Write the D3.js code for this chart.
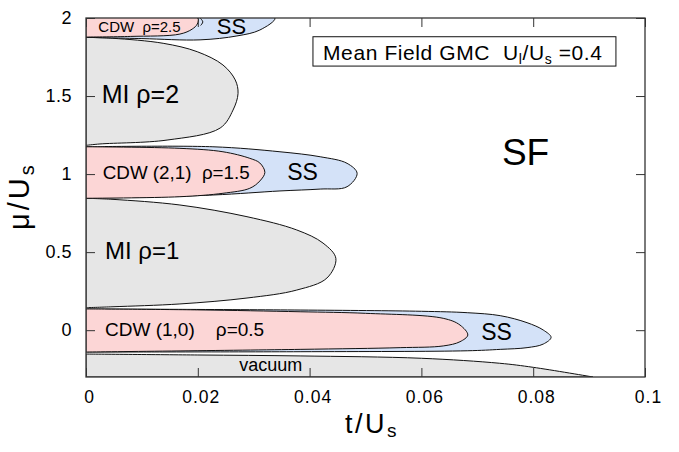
<!DOCTYPE html>
<html><head><meta charset="utf-8">
<script src="https://cdn.jsdelivr.net/npm/d3@7"></script>
<style>
body{margin:0;background:#fff}
text{font-family:"Liberation Sans",Arial,Helvetica,sans-serif;fill:#000}
</style>
</head><body>
<svg id="chart" width="679" height="452"></svg>
<script>
// ---- data ----
const xTicks = [0, 0.02, 0.04, 0.06, 0.08, 0.1];
const xTickLabels = ["0", "0.02", "0.04", "0.06", "0.08", "0.1"];
const yTicks = [0, 0.5, 1, 1.5, 2];
const yTickLabels = ["0", "0.5", "1", "1.5", "2"];

// phase boundaries [t/Us, mu/Us]
const vacuumEdge = [[0,-0.153],[0.02,-0.159],[0.0383,-0.165],[0.06,-0.180],[0.074,-0.212],[0.08,-0.238],[0.0907,-0.3]];
const ssLow  = [[0,0.136],[0.0383,0.129],[0.06,0.121],[0.0682,0.112],[0.0741,0.093],[0.0789,0.048],[0.0818,0.001],[0.0832,-0.046],[0.0818,-0.089],[0.0789,-0.112],[0.0741,-0.123],[0.0682,-0.132],[0.0383,-0.138],[0,-0.140]];
const cdwLow = [[0,0.136],[0.02,0.130],[0.0383,0.118],[0.05,0.108],[0.0639,0.076],[0.0669,0.033],[0.0683,-0.031],[0.0669,-0.074],[0.0639,-0.101],[0.0562,-0.112],[0.0383,-0.123],[0,-0.140]];
const miOne  = [[0,0.845],[0.00483,0.838],[0.0168,0.802],[0.0288,0.727],[0.0377,0.642],[0.0424,0.558],[0.0447,0.460],[0.0431,0.334],[0.0377,0.257],[0.0288,0.206],[0.0168,0.168],[0.00483,0.150],[0,0.144]];
const ssMid  = [[0,1.175],[0.0227,1.175],[0.0347,1.143],[0.0419,1.111],[0.0467,1.069],[0.0485,1.005],[0.0467,0.919],[0.0419,0.904],[0.0347,0.892],[0.0227,0.866],[0,0.845]];
const cdwMid = [[0,1.175],[0.0168,1.165],[0.0245,1.143],[0.0293,1.101],[0.0311,1.071],[0.0320,1.011],[0.0311,0.956],[0.0293,0.909],[0.0245,0.877],[0.0168,0.855],[0,0.845]];
const miTwo  = [[0,1.876],[0.0048,1.870],[0.0138,1.838],[0.0199,1.784],[0.0245,1.699],[0.0267,1.603],[0.0272,1.517],[0.0263,1.410],[0.0240,1.295],[0.0145,1.218],[0.0025,1.193],[0,1.184]];
const ssTop  = [[0,2.0],[0.0338,2.0],[0.0311,1.923],[0.0270,1.885],[0.0204,1.860],[0.01,1.868],[0,1.876]];
const cdwTop = [[0,2.0],[0.0200,2.0],[0.0199,1.961],[0.0190,1.929],[0.0168,1.897],[0.008,1.882],[0,1.878]];
const topArc = [[0.0204,2.0],[0.0209,1.975],[0.0205,1.952]];

// ---- layout ----
const W = 679, H = 452;
const m = {left: 86, right: 34, top: 18, bottom: 75};
const pw = W - m.left - m.right, ph = H - m.top - m.bottom;
const x = d3.scaleLinear().domain([0, 0.1]).range([0, pw]);
const y = d3.scaleLinear().domain([-0.3, 2.0]).range([ph, 0]);

const PINK = "#fcd6d6", BLUE = "#d4e2f8", GRAY = "#e6e6e6";

const svg = d3.select("#chart");
svg.append("defs").append("clipPath").attr("id","clip")
  .append("rect").attr("width", pw).attr("height", ph);
const g = svg.append("g").attr("transform", `translate(${m.left},${m.top})`);
const plot = g.append("g").attr("clip-path","url(#clip)");

const line = d3.line().x(d => x(d[0])).y(d => y(d[1])).curve(d3.curveCatmullRom.alpha(0.5));

// vacuum
plot.append("path")
  .attr("d", line(vacuumEdge) + `L${x(0)},${y(-0.3)}Z`)
  .attr("fill", GRAY).attr("stroke", "#111").attr("stroke-width", 1);

const regions = [
  [ssLow, BLUE], [cdwLow, PINK], [miOne, GRAY],
  [ssMid, BLUE], [cdwMid, PINK], [miTwo, GRAY],
  [ssTop, BLUE], [cdwTop, PINK]
];
regions.forEach(([pts, fill]) => {
  plot.append("path").attr("d", line(pts) + "Z")
    .attr("fill", fill).attr("stroke", "#111").attr("stroke-width", 1);
});
plot.append("path").attr("d", line(topArc))
  .attr("fill", "none").attr("stroke", "#111").attr("stroke-width", 1);

// axes (inward ticks)
const tickStyle = sel => {
  sel.select(".domain").remove();
  sel.selectAll(".tick line").attr("stroke", "#333").attr("stroke-width", 1);
  sel.selectAll("text").style("font-family", '"Liberation Sans",Arial,sans-serif').attr("fill", "#000");
};
g.append("g").attr("transform", `translate(0,${ph})`)
  .call(d3.axisBottom(x).tickValues(xTicks).tickFormat((d,i)=>xTickLabels[i]).tickSize(-9).tickPadding(14))
  .call(tickStyle)
  .call(s => s.selectAll("text").style("font-size","17.5px").style("letter-spacing","1px").attr("dx","3"));
g.append("g")
  .call(d3.axisTop(x).tickValues(xTicks).tickFormat("").tickSize(-9))
  .call(tickStyle);
g.append("g")
  .call(d3.axisLeft(y).tickValues(yTicks).tickFormat((d,i)=>yTickLabels[i]).tickSize(-9).tickPadding(14))
  .call(tickStyle)
  .call(s => s.selectAll("text").style("font-size","18px").style("letter-spacing","0.5px"));
g.append("g").attr("transform", `translate(${pw},0)`)
  .call(d3.axisRight(y).tickValues(yTicks).tickFormat("").tickSize(-9))
  .call(tickStyle);

// frame
g.append("rect").attr("width", pw).attr("height", ph)
  .attr("fill", "none").attr("stroke", "#333").attr("stroke-width", 1.3);

// region labels
const labels = [
  {t:0.0022, mu:1.912, txt:"CDW  \u03c1=2.5", fs:15},
  {t:0.0234, mu:1.897, txt:"SS", fs:22},
  {t:0.0028, mu:1.453, txt:"MI \u03c1=2", fs:25},
  {t:0.0030, mu:0.967, txt:"CDW (2,1)  \u03c1=1.5", fs:18.8},
  {t:0.0360, mu:0.962, txt:"SS", fs:23},
  {t:0.0034, mu:0.454, txt:"MI \u03c1=1", fs:24},
  {t:0.0034, mu:-0.035, txt:"CDW (1,0)    \u03c1=0.5", fs:19},
  {t:0.0707, mu:-0.063, txt:"SS", fs:23},
  {t:0.0274, mu:-0.262, txt:"vacuum", fs:18},
  {t:0.0744, mu:1.058, txt:"SF", fs:37}
];
labels.forEach(l => {
  g.append("text").attr("x", x(l.t)).attr("y", y(l.mu))
    .style("font-size", l.fs + "px").attr("xml:space","preserve").text(l.txt);
});

// title box
g.append("rect").attr("x", x(0.0406)).attr("y", y(1.880))
  .attr("width", x(0.0948) - x(0.0406)).attr("height", y(1.692) - y(1.880))
  .attr("fill", "#fff").attr("stroke", "#111").attr("stroke-width", 1);
const bt = g.append("text").attr("x", x(0.0424)).attr("y", y(1.731))
  .style("font-size", "21px").style("letter-spacing", "0.6px").attr("xml:space","preserve");
bt.append("tspan").text("Mean Field GMC  U");
bt.append("tspan").attr("dy", 4).style("font-size","14px").text("l");
bt.append("tspan").attr("dy", -4).text("/U");
bt.append("tspan").attr("dy", 4).style("font-size","14px").text("s");
bt.append("tspan").attr("dy", -4).text(" =0.4");

// axis titles
const xt = svg.append("text").attr("x", 345).attr("y", 433).style("font-size","27px").style("letter-spacing","2.5px");
xt.append("tspan").text("t/U");
xt.append("tspan").attr("dy", 4).style("font-size","19px").text("s");

const yt = svg.append("text").attr("transform", "translate(28.5,230) rotate(-90)").style("font-size","29px").style("letter-spacing","3px");
yt.append("tspan").text("\u03bc/U");
yt.append("tspan").attr("dy", 5).style("font-size","20px").text("s");
</script>
</body></html>
